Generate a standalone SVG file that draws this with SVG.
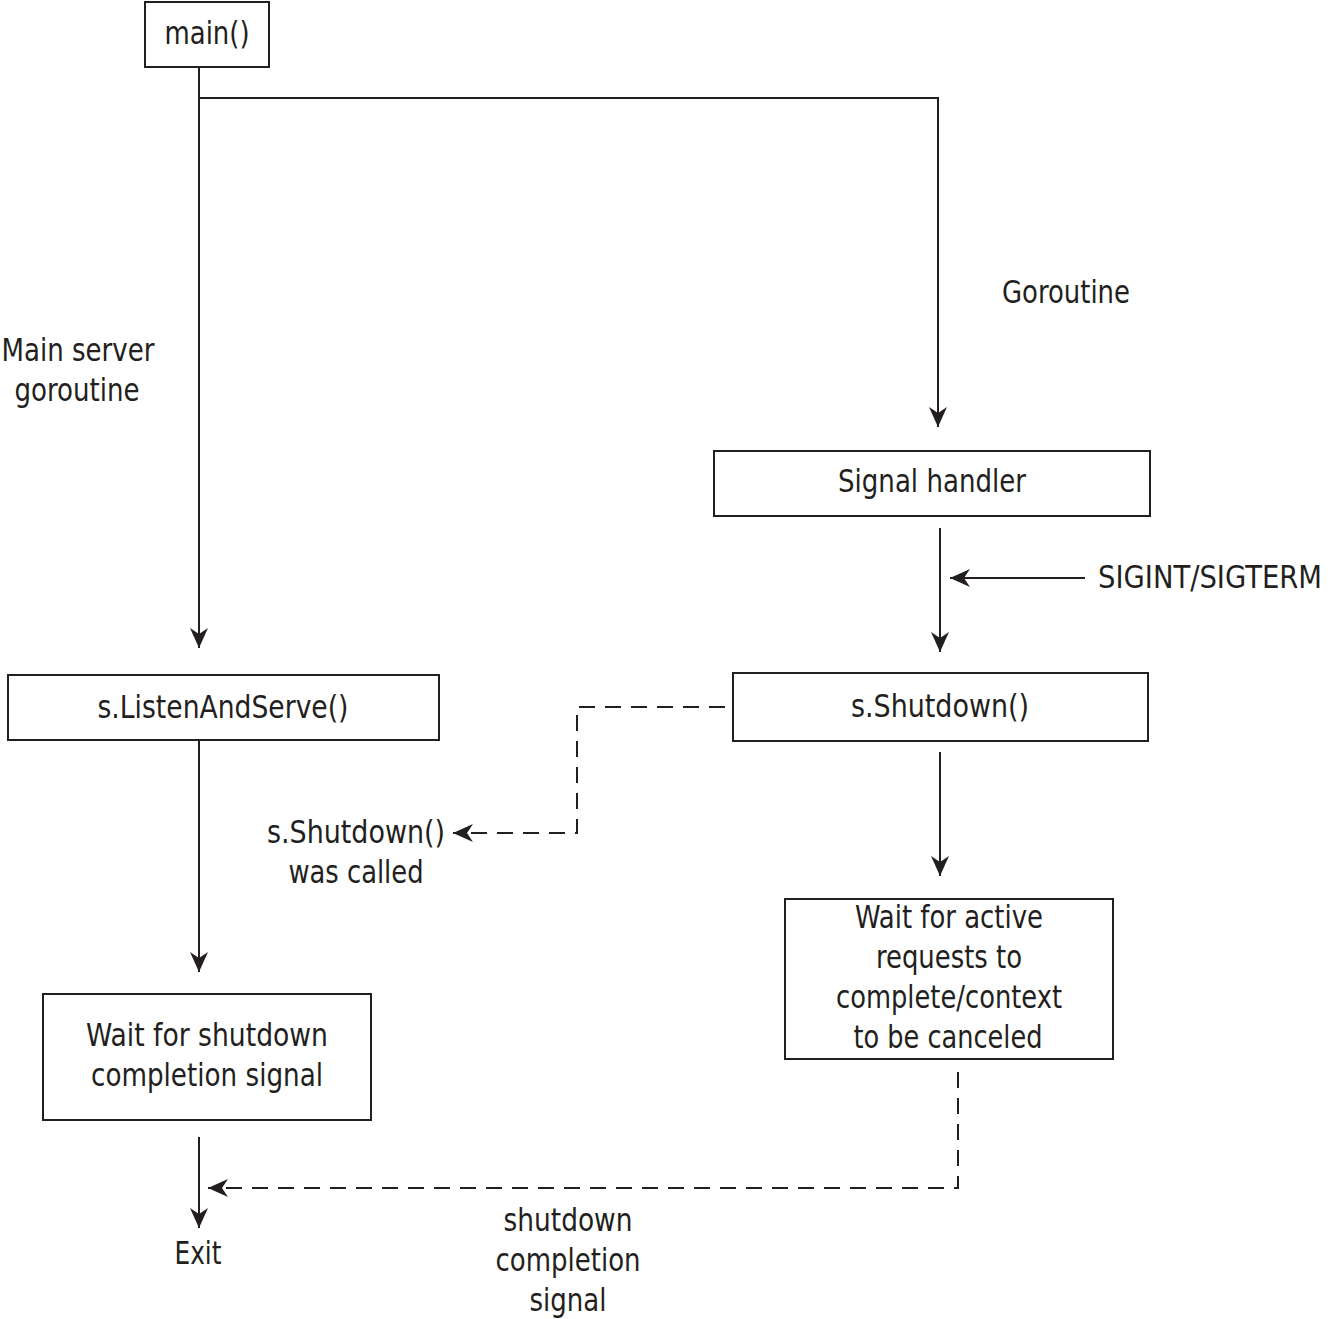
<svg xmlns="http://www.w3.org/2000/svg" width="1330" height="1319" viewBox="0 0 1330 1319">
<style>
text{font-family:"Liberation Sans Narrow","DejaVu Sans Condensed","Liberation Sans",sans-serif;font-size:32px;fill:#231f20;text-anchor:middle}
.box{fill:#fff;stroke:#231f20;stroke-width:2}
.ln{fill:none;stroke:#231f20;stroke-width:2}
.dash{fill:none;stroke:#231f20;stroke-width:2;stroke-dasharray:16,10}
</style>
<defs>
<marker id="ah" markerUnits="userSpaceOnUse" markerWidth="22" markerHeight="18" refX="20" refY="9" orient="auto" viewBox="0 0 22 18">
<path d="M0,0 L20,9 L0,18 L6,9 z" fill="#231f20"/>
</marker>
</defs>
<rect width="1330" height="1319" fill="#fff"/>
<g id="connectors">
<path class="ln" d="M199,67 V648" marker-end="url(#ah)"/>
<path class="ln" d="M199,98 H938 V427" marker-end="url(#ah)"/>
<path class="ln" d="M940,528 V652" marker-end="url(#ah)"/>
<path class="ln" d="M1085,578 H950" marker-end="url(#ah)"/>
<path class="ln" d="M940,752 V876" marker-end="url(#ah)"/>
<path class="ln" d="M199,741 V972" marker-end="url(#ah)"/>
<path class="ln" d="M199,1137 V1228" marker-end="url(#ah)"/>
<path class="dash" d="M725,707 H577 V833 H453" marker-end="url(#ah)"/>
<path class="dash" d="M958,1072 V1188 H208" marker-end="url(#ah)"/>
</g>
<g id="main">
<rect class="box" x="145" y="2" width="124" height="65"/>
<text x="207" y="44" textLength="85" lengthAdjust="spacingAndGlyphs">main()</text>
</g>
<g id="label-main-server">
<text x="78" y="361" textLength="153" lengthAdjust="spacingAndGlyphs">Main server</text>
<text x="77" y="401" textLength="125" lengthAdjust="spacingAndGlyphs">goroutine</text>
</g>
<g id="label-goroutine">
<text x="1066" y="303" textLength="128" lengthAdjust="spacingAndGlyphs">Goroutine</text>
</g>
<g id="signal-handler">
<rect class="box" x="714" y="451" width="436" height="65"/>
<text x="932" y="492" textLength="188" lengthAdjust="spacingAndGlyphs">Signal handler</text>
</g>
<g id="label-sigint">
<text x="1210" y="588" textLength="224" lengthAdjust="spacingAndGlyphs">SIGINT/SIGTERM</text>
</g>
<g id="listen-and-serve">
<rect class="box" x="8" y="675" width="431" height="65"/>
<text x="223" y="718" textLength="251" lengthAdjust="spacingAndGlyphs">s.ListenAndServe()</text>
</g>
<g id="shutdown">
<rect class="box" x="733" y="673" width="415" height="68"/>
<text x="940" y="717" textLength="178" lengthAdjust="spacingAndGlyphs">s.Shutdown()</text>
</g>
<g id="label-shutdown-called">
<text x="356" y="843" textLength="178" lengthAdjust="spacingAndGlyphs">s.Shutdown()</text>
<text x="356" y="883" textLength="135" lengthAdjust="spacingAndGlyphs">was called</text>
</g>
<g id="wait-active">
<rect class="box" x="785" y="899" width="328" height="160"/>
<text x="949" y="928" textLength="188" lengthAdjust="spacingAndGlyphs">Wait for active</text>
<text x="949" y="968" textLength="146" lengthAdjust="spacingAndGlyphs">requests to</text>
<text x="949" y="1008" textLength="226" lengthAdjust="spacingAndGlyphs">complete/context</text>
<text x="948" y="1048" textLength="189" lengthAdjust="spacingAndGlyphs">to be canceled</text>
</g>
<g id="wait-shutdown">
<rect class="box" x="43" y="994" width="328" height="126"/>
<text x="207" y="1046" textLength="242" lengthAdjust="spacingAndGlyphs">Wait for shutdown</text>
<text x="207" y="1086" textLength="232" lengthAdjust="spacingAndGlyphs">completion signal</text>
</g>
<g id="exit">
<text x="198" y="1264" textLength="47" lengthAdjust="spacingAndGlyphs">Exit</text>
</g>
<g id="label-completion">
<text x="568" y="1231" textLength="129" lengthAdjust="spacingAndGlyphs">shutdown</text>
<text x="568" y="1271" textLength="145" lengthAdjust="spacingAndGlyphs">completion</text>
<text x="568" y="1311" textLength="77" lengthAdjust="spacingAndGlyphs">signal</text>
</g>
</svg>
